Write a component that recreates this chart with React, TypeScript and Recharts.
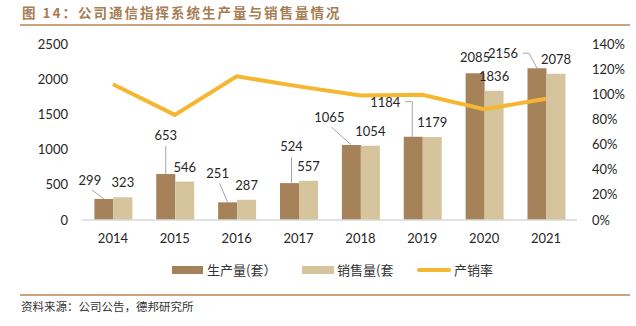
import React from 'react';
import { ComposedChart, Bar, Line, XAxis, YAxis, LabelList } from 'recharts';

const years = ['2014', '2015', '2016', '2017', '2018', '2019', '2020', '2021'];
const production = [299, 653, 251, 524, 1065, 1184, 2085, 2156];
const sales = [323, 546, 287, 557, 1054, 1179, 1836, 2078];
const rate = [1.08, 0.836, 1.143, 1.063, 0.99, 0.996, 0.881, 0.964];
const leftTicks = [0, 500, 1000, 1500, 2000, 2500];
const rightTicks = [0, 0.2, 0.4, 0.6, 0.8, 1.0, 1.2, 1.4];

const data = years.map((y, i) => ({ year: y, production: production[i], sales: sales[i], rate: rate[i] }));

const PROD_COLOR = '#a6825b';
const SALES_COLOR = '#d6c59c';
const LINE_COLOR = '#f6b730';
const TEXT_COLOR = '#262626';
const LEADER = '#a6a6a6';
const NUM_FONT = 'Lato, "Open Sans", sans-serif';
const CJK_FONT = '"Noto Sans CJK SC", sans-serif';

// label placement relative to bar top-centre (Excel manual label positions)
const PROD_LABEL_LAYOUT = [
  { dx: -14, dy: -19, leader: 'diag', ex: 0 },
  { dx: 0, dy: -39, leader: 'vert', ex: 0 },
  { dx: -10, dy: -29, leader: 'diag', ex: 0 },
  { dx: 2, dy: -37, leader: 'vert', ex: 0 },
  { dx: -22, dy: -28, leader: 'diag', ex: 0 },
  { dx: -28, dy: -35, leader: 'elbowV', ex: -1 },
  { dx: 0, dy: -16, leader: 'none', ex: 0 },
  { dx: -34, dy: -15, leader: 'elbowD', ex: -8 },
];

const ProdLabel = (props: any) => {
  const { x, y, width, value, index } = props;
  const cx = Number(x) + Number(width) / 2;
  const top = Number(y);
  const lay = PROD_LABEL_LAYOUT[index] || { dx: 0, dy: -15, leader: 'none', ex: 0 };
  const lx = cx + lay.dx;
  const ly = top + lay.dy;
  const half = String(value).length * 3.7;
  let leader: React.ReactNode = null;
  if (lay.leader === 'diag') {
    leader = <line x1={lx + 2} y1={ly + 10} x2={cx} y2={top} stroke={LEADER} strokeWidth={1} />;
  } else if (lay.leader === 'vert') {
    leader = <line x1={lx} y1={ly + 11} x2={lx} y2={top} stroke={LEADER} strokeWidth={1} />;
  } else if (lay.leader === 'elbowV') {
    leader = (
      <polyline
        points={`${lx + half + 5},${ly} ${cx + lay.ex},${ly} ${cx + lay.ex},${top}`}
        fill="none"
        stroke={LEADER}
        strokeWidth={1}
      />
    );
  } else if (lay.leader === 'elbowD') {
    leader = (
      <polyline
        points={`${lx + half + 5},${ly} ${cx + lay.ex},${ly} ${cx},${top}`}
        fill="none"
        stroke={LEADER}
        strokeWidth={1}
      />
    );
  }
  return (
    <g>
      {leader}
      <text x={lx} y={ly} textAnchor="middle" dominantBaseline="central" fontSize={13} fontFamily={NUM_FONT} fill={TEXT_COLOR}>
        {value}
      </text>
    </g>
  );
};

const SalesLabel = (props: any) => {
  const { x, y, width, value } = props;
  const cx = Number(x) + Number(width) / 2;
  return (
    <text x={cx} y={Number(y) - 15} textAnchor="middle" dominantBaseline="central" fontSize={13} fontFamily={NUM_FONT} fill={TEXT_COLOR}>
      {value}
    </text>
  );
};

const tickStyle = { fontSize: 13, fontFamily: NUM_FONT, fill: TEXT_COLOR };

export default function App() {
  return (
    <div style={{ position: 'absolute', left: 0, top: 0, width: 636, height: 326, background: '#fff', overflow: 'hidden' }}>
      <div
        style={{
          position: 'absolute',
          left: 22,
          top: 3,
          fontFamily: CJK_FONT,
          fontWeight: 700,
          fontSize: 13.5,
          letterSpacing: 2,
          color: '#a67c52',
          whiteSpace: 'nowrap',
          lineHeight: '18px',
        }}
      >
        图 14：公司通信指挥系统生产量与销售量情况
      </div>
      <div style={{ position: 'absolute', left: 20, top: 24, width: 610, height: 2, background: '#c9a47c' }} />

      <div style={{ position: 'absolute', left: 0, top: 0 }}>
        <ComposedChart
          width={636}
          height={326}
          data={data}
          margin={{ top: 44, right: 0, bottom: 0, left: 0 }}
          barCategoryGap="20%"
          barGap={0}
        >
          <XAxis
            dataKey="year"
            height={106}
            tickLine={false}
            axisLine={{ stroke: '#d9d9d9', strokeWidth: 1.5 }}
            tick={tickStyle}
            tickMargin={8}
            interval={0}
          />
          <YAxis
            yAxisId="left"
            orientation="left"
            width={82}
            domain={[0, 2500]}
            ticks={leftTicks}
            tickLine={false}
            axisLine={false}
            tick={tickStyle}
            tickMargin={8}
            interval={0}
          />
          <YAxis
            yAxisId="right"
            orientation="right"
            width={59}
            domain={[0, 1.4]}
            ticks={rightTicks}
            tickLine={false}
            axisLine={false}
            tick={tickStyle}
            tickMargin={9}
            interval={0}
            tickFormatter={(v: number) => `${Math.round(v * 100)}%`}
          />
          <Bar yAxisId="left" dataKey="production" name="生产量(套）" fill={PROD_COLOR} isAnimationActive={false}>
            <LabelList dataKey="production" content={ProdLabel} />
          </Bar>
          <Bar yAxisId="left" dataKey="sales" name="销售量(套" fill={SALES_COLOR} isAnimationActive={false}>
            <LabelList dataKey="sales" content={SalesLabel} />
          </Bar>
          <Line
            yAxisId="right"
            dataKey="rate"
            name="产销率"
            stroke={LINE_COLOR}
            strokeWidth={4}
            dot={false}
            activeDot={false}
            isAnimationActive={false}
          />
        </ComposedChart>
      </div>

      {/* legend */}
      <div style={{ position: 'absolute', left: 0, top: 261, width: 636, height: 18, fontFamily: CJK_FONT, fontSize: 13, color: '#333', whiteSpace: 'nowrap' }}>
        <div style={{ position: 'absolute', left: 172, top: 5, width: 31, height: 8, background: PROD_COLOR }} />
        <span style={{ position: 'absolute', left: 207, top: 0, lineHeight: '18px' }}>生产量(套）</span>
        <div style={{ position: 'absolute', left: 302, top: 5, width: 32, height: 8, background: SALES_COLOR }} />
        <span style={{ position: 'absolute', left: 337, top: 0, lineHeight: '18px' }}>销售量(套</span>
        <div style={{ position: 'absolute', left: 417, top: 7, width: 34, height: 4, background: LINE_COLOR, borderRadius: 2 }} />
        <span style={{ position: 'absolute', left: 454, top: 0, lineHeight: '18px' }}>产销率</span>
      </div>

      <div style={{ position: 'absolute', left: 20, top: 294, width: 610, height: 2, background: '#c9a47c' }} />
      <div
        style={{
          position: 'absolute',
          left: 21,
          top: 298,
          fontFamily: CJK_FONT,
          fontSize: 11.5,
          color: '#333',
          whiteSpace: 'nowrap',
          lineHeight: '16px',
        }}
      >
        资料来源：公司公告，德邦研究所
      </div>
    </div>
  );
}
